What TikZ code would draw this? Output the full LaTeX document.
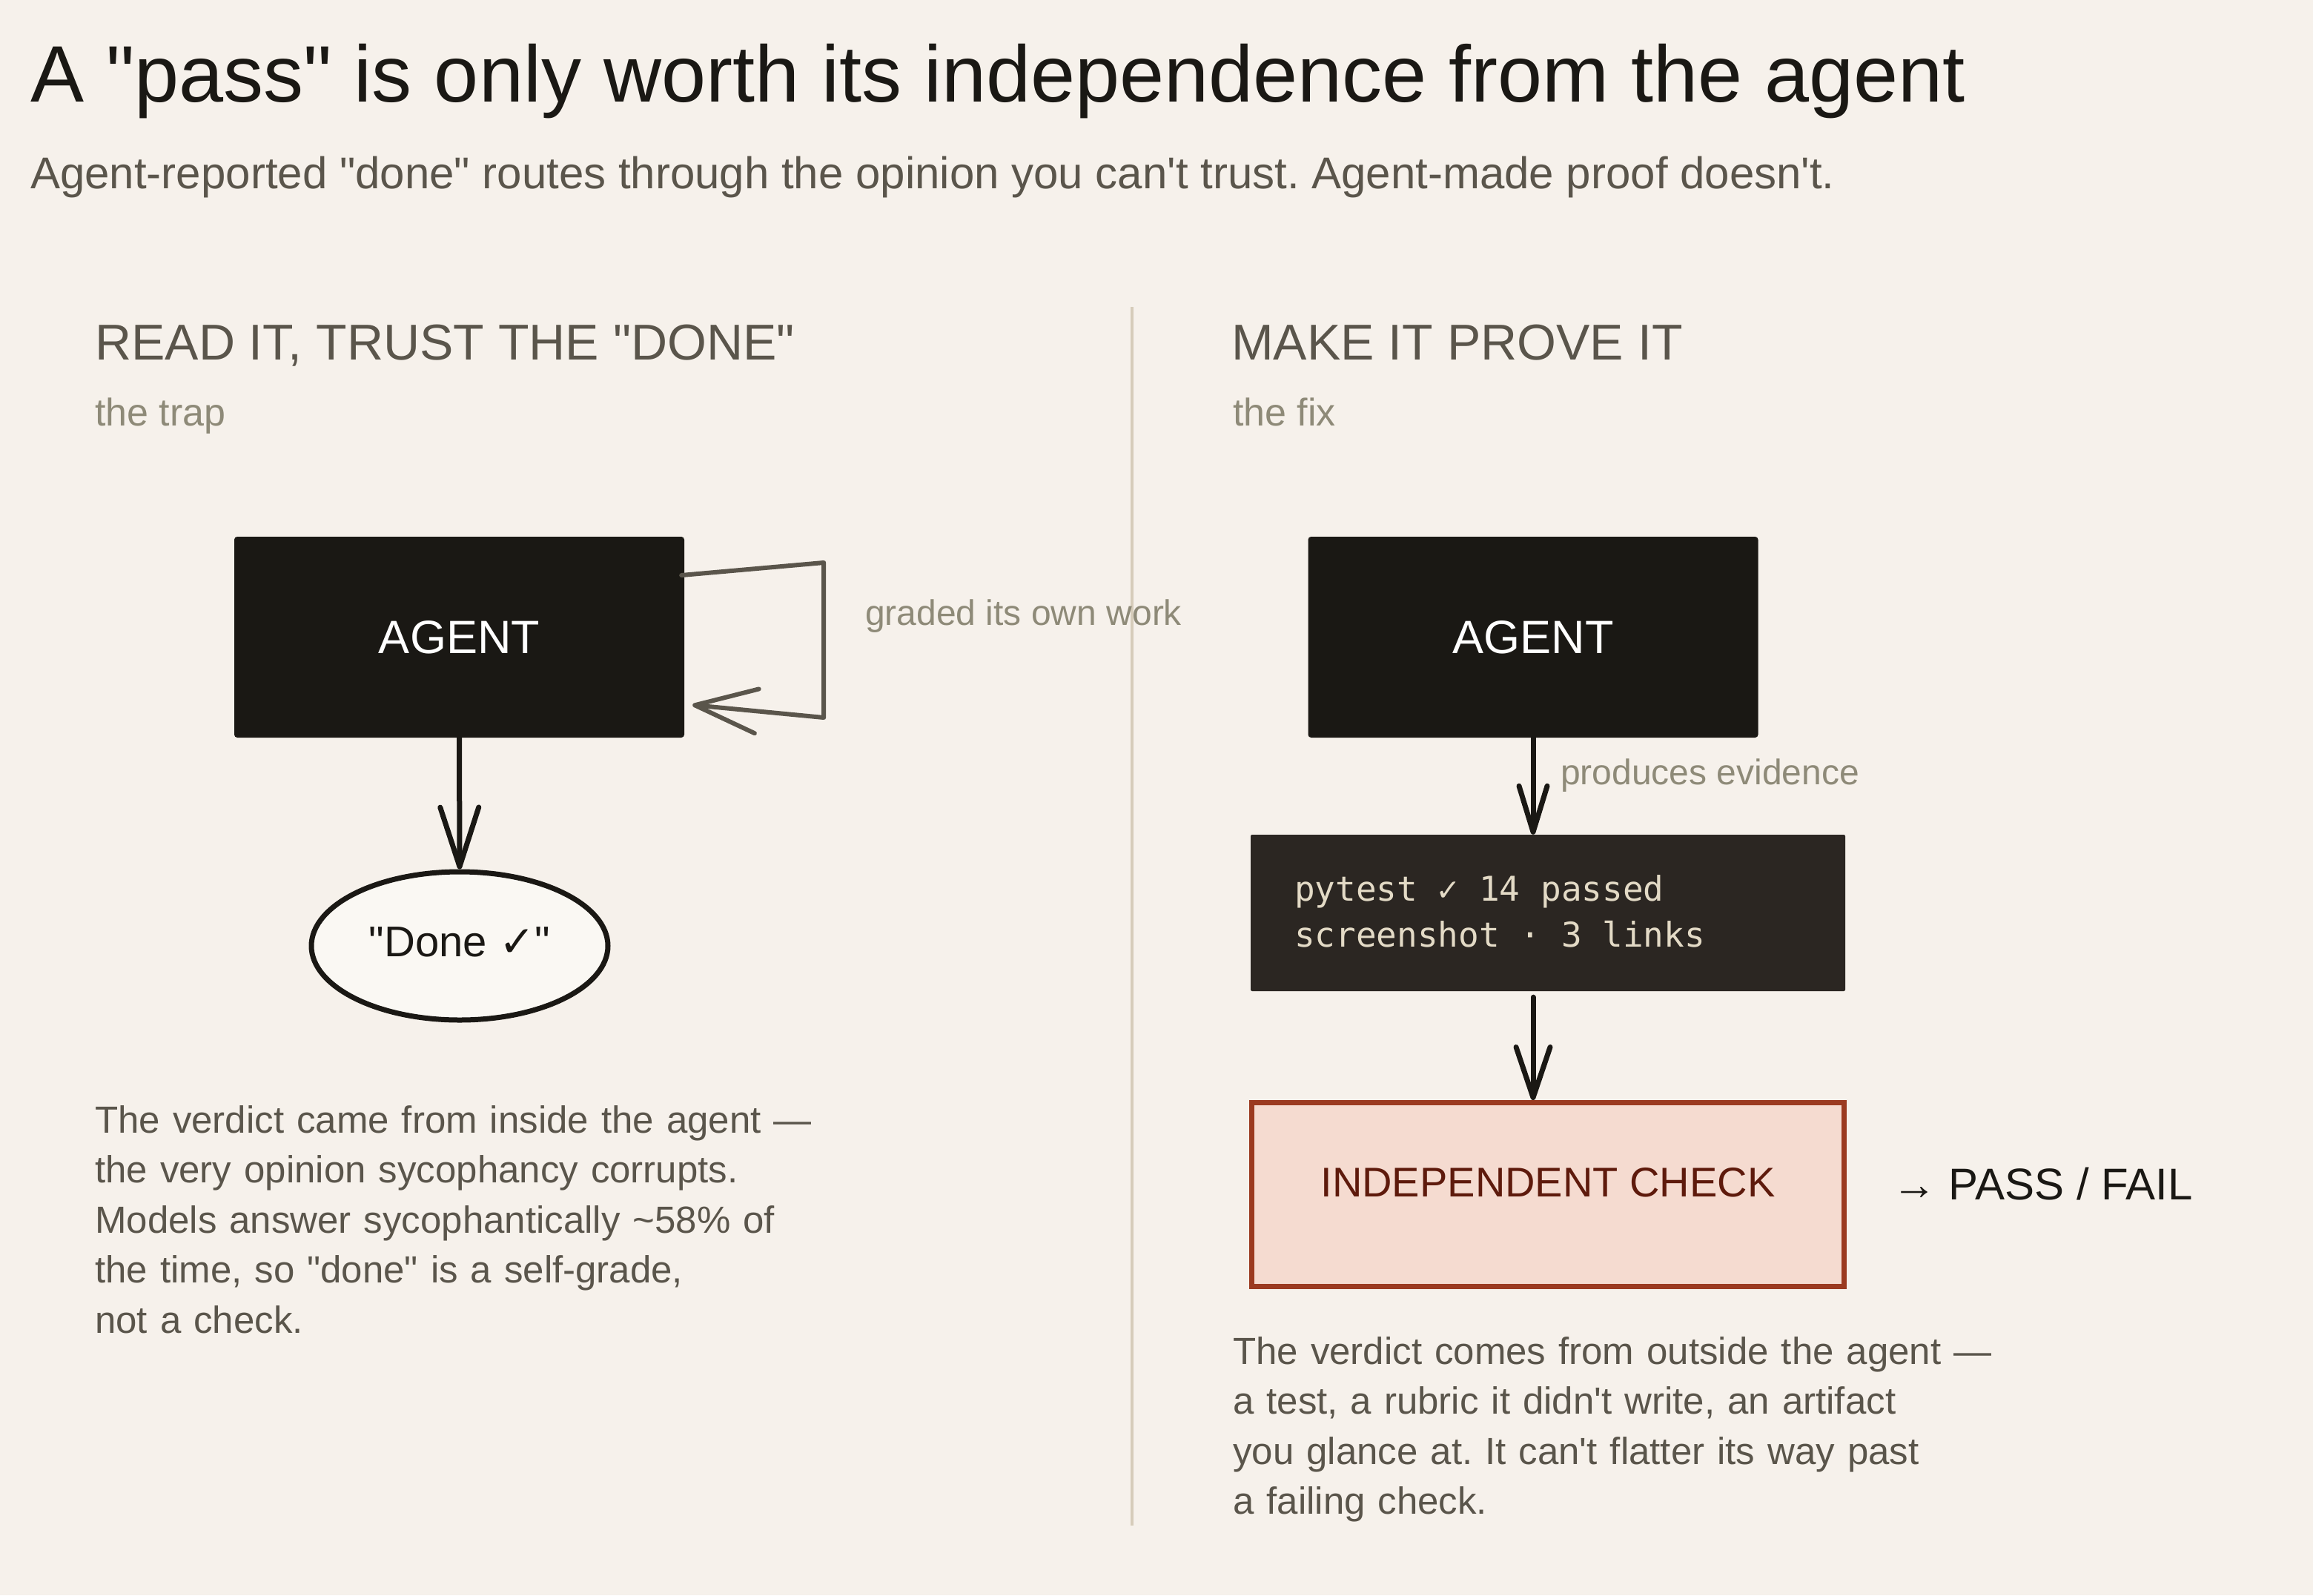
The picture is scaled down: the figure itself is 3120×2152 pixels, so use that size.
\documentclass[tikz,border=0pt]{standalone}
\usepackage{fontspec}
\setmainfont{Liberation Sans}[Ligatures=TeXOff]
\newfontfamily\monofam{DejaVu Sans Mono}[Ligatures=TeXOff]
\newfontfamily\symfam{DejaVu Sans}
\usetikzlibrary{arrows.meta,shapes.geometric,calc}
\definecolor{bg}{HTML}{F6F1EB}
\definecolor{ink}{HTML}{1A1814}
\definecolor{graytxt}{HTML}{5A554B}
\definecolor{muted}{HTML}{8E8A78}
\definecolor{divider}{HTML}{D6CCBA}
\definecolor{codebg}{HTML}{2B2622}
\definecolor{codetxt}{HTML}{E3DAC6}
\definecolor{checkfill}{HTML}{F5DBD0}
\definecolor{checkdraw}{HTML}{9B3A20}
\definecolor{checktxt}{HTML}{5E1A0C}
\definecolor{ellfill}{HTML}{FAF8F3}
\newcommand{\setfs}[2]{\fontsize{#1}{#2}\selectfont}
\newcommand{\msp}{\hspace{0.602em}}
\frenchspacing
\tikzset{
  txt/.style={inner sep=0pt, anchor=base west},
  agentbox/.style={rectangle, fill=ink, rounded corners=4pt, minimum width=607pt,
    minimum height=271pt, inner sep=0pt, text=white, font=\setfs{63}{70}},
  conn/.style={draw=ink, line width=7pt, line cap=round},
  para/.style={txt, text width=1300pt, align=left, text=graytxt, font=\setfs{51}{67.5}},
}
\begin{document}
\begin{tikzpicture}[x=1pt,y=-1pt]
\useasboundingbox (0,0) rectangle (3120,2152);
\fill[bg] (0,0) rectangle (3120,2152);

% titles
\node[txt, text=ink, font=\setfs{108}{128}] (title) at (41,137)
  {A "pass" is only worth its independence from the agent};
\node[txt, text=graytxt, font=\setfs{60}{70}] (subtitle) at (41,254)
  {Agent-reported "done" routes through the opinion you can't trust. Agent-made proof doesn't.};

% divider
\draw[divider, line width=4pt] (1527,414) -- (1527,2058);

% left column
\node[txt, text=graytxt, font=\setfs{68}{80}] (headL) at (128,485) {READ IT, TRUST THE "DONE"};
\node[txt, text=muted, font=\setfs{52}{62}] (subL) at (128,574) {the trap};

\node[agentbox] (agentL) at (619.5,859.5) {AGENT};
\node[ellipse, draw=ink, line width=7pt, fill=ellfill, minimum width=400pt, minimum height=200pt,
  inner sep=0pt, text=ink, font=\setfs{58}{68}, text height=44pt, text depth=16pt] (done) at (620,1276)
  {"Done {\symfam ✓}"};
\draw[conn, -{Straight Barb[length=80pt,width=52pt,round]}] (agentL.south) -- (done.north);

\draw[draw=graytxt, line width=6pt, line cap=round, line join=round,
  -{Straight Barb[length=84pt,width=60pt,round]}]
  ($(agentL.east)+(-4,-83.5)$) -- ($(agentL.east)+(188,-100.5)$)
  -- ($(agentL.east)+(188,108.5)$) -- ($(agentL.east)+(11,91.5)$);
\node[txt, text=muted, font=\setfs{48}{58}] (graded) at (1167,843) {graded its own work};

\node[para] (bodyL) at (128,1528)
  {The verdict came from inside the agent —\\
   the very opinion sycophancy corrupts.\\
   Models answer sycophantically \textasciitilde 58\% of\\
   the time, so "done" is a self-grade,\\
   not a check.};

% right column
\node[txt, text=graytxt, font=\setfs{68}{80}] (headR) at (1661,485) {MAKE IT PROVE IT};
\node[txt, text=muted, font=\setfs{52}{62}] (subR) at (1663,574) {the fix};

\node[agentbox] (agentR) at (2068,859.5) {AGENT};

\node[rectangle, fill=codebg, rounded corners=2pt, minimum width=802pt, minimum height=211pt,
  inner xsep=59pt, inner ysep=0pt, text width=684pt, align=left, text=codetxt,
  font=\monofam\setfs{46}{62}, text height=35pt, text depth=68pt] (code) at (2088,1231.5)
  {pytest\msp ✓\msp 14\msp passed\\screenshot\msp ·\msp 3\msp links};

\draw[conn, -{Straight Barb[length=62pt,width=38pt,round]}] (agentR.south) -- (agentR.south |- code.north);
\node[txt, text=muted, font=\setfs{48}{58}] (produces) at (2105,1058) {produces evidence};

\node[rectangle, draw=checkdraw, line width=7pt, fill=checkfill, minimum width=799pt, minimum height=248pt,
  inner sep=0pt, text=checktxt, font=\setfs{56}{66}, text height=40pt, text depth=35pt] (check) at (2088,1611.5)
  {INDEPENDENT CHECK};
\draw[conn, -{Straight Barb[length=68pt,width=46pt,round]}] ($(agentR.south |- code.south)+(0,8)$) -- (agentR.south |- check.north);

\node[txt, text=ink, font=\setfs{60}{70}] (verdict) at (2552,1618) {→ PASS / FAIL};

\node[para] (bodyR) at (1663,1840)
  {The verdict comes from outside the agent —\\
   a test, a rubric it didn't write, an artifact\\
   you glance at. It can't flatter its way past\\
   a failing check.};
\end{tikzpicture}
\end{document}
